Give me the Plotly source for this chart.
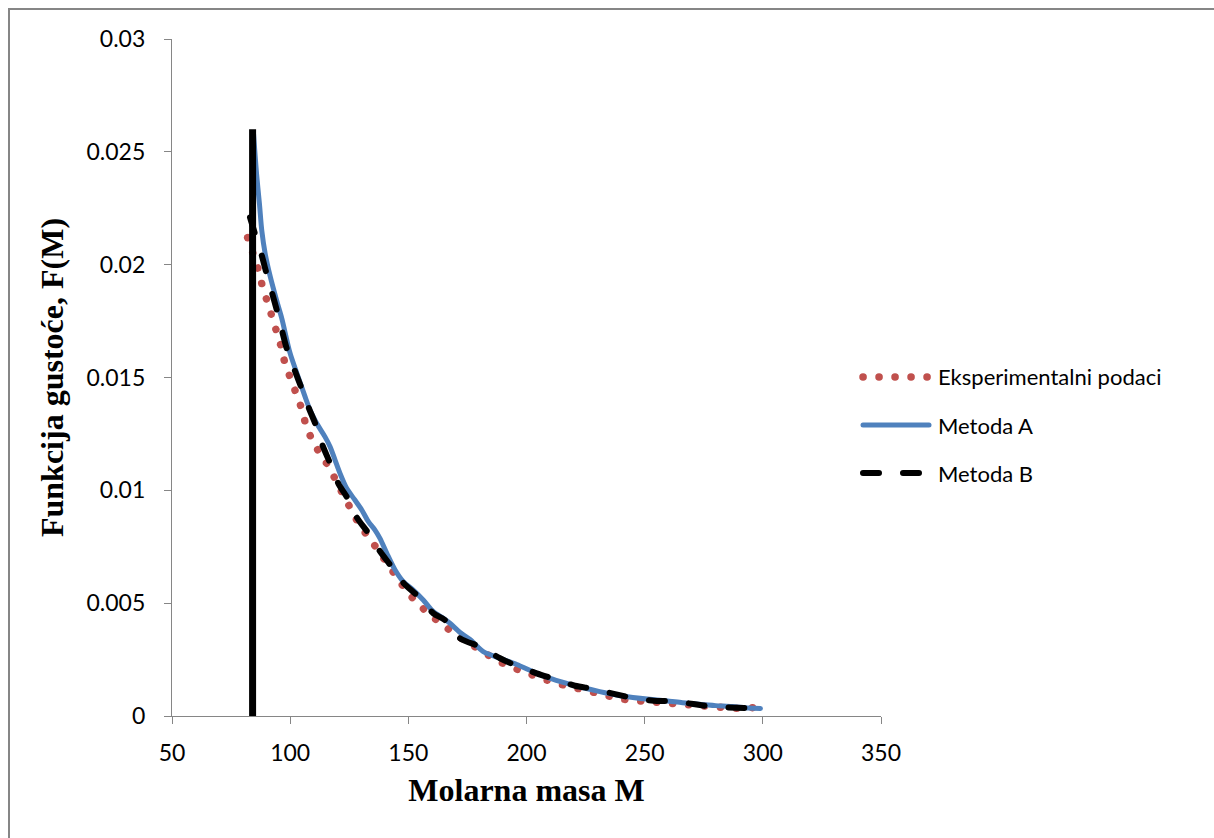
import plotly.graph_objects as go

# Experimental molar-mass density (dotted red)
exp_M = [82.0, 84.7, 86.8, 88.1, 90.2, 92.3, 96.4, 97.8, 100.4, 103.0, 105.1, 106.7,
         109.4, 112.9, 116.9, 119.7, 122.9, 126.0, 129.5, 133.8, 137.6, 141.5, 145.8,
         149.6, 154.2, 159.2, 170.2, 176.1, 181.7, 187.8, 194.2, 200.5, 207.1, 213.5,
         220.1, 226.9, 233.5, 240.3, 246.9, 254.0, 260.7, 267.8, 274.6, 281.3, 288.4,
         295.3, 302.1]
exp_F = [0.0212, 0.0204, 0.0197, 0.0191, 0.0183, 0.0177, 0.0163, 0.0156, 0.0149, 0.0142,
         0.01356, 0.01285, 0.0122, 0.01157, 0.01098, 0.01034, 0.00967, 0.00905, 0.00842,
         0.00785, 0.00725, 0.00666, 0.00607, 0.00548, 0.00496, 0.00448, 0.00359, 0.00318,
         0.00278, 0.00244, 0.00214, 0.00186, 0.00164, 0.00143, 0.00125, 0.00108, 0.00089,
         0.00075, 0.00068, 0.00061, 0.00055, 0.00050, 0.00041, 0.00034, 0.00034, 0.00037,
         0.00034]

# Method A (solid blue)
a_M = [84.5, 85.8, 87.0, 88.0, 89.4, 91.5, 94.3, 96.5, 99.9, 102.8, 106.3, 108.4, 111.2,
       114.7, 116.9, 119.0, 121.1, 123.9, 127.4, 130.3, 133.1, 135.9, 138.0, 140.9, 144.4,
       147.9, 152.1, 156.3, 160.6, 164.8, 167.6, 171.9, 176.0, 181.7, 188.8, 195.9, 203.0,
       210.0, 217.0, 224.0, 231.0, 238.0, 245.0, 252.0, 259.0, 266.0, 273.0, 280.0, 287.0,
       294.0, 299.0]
a_F = [0.0258, 0.0240, 0.0227, 0.0215, 0.0205, 0.0195, 0.0184, 0.0176, 0.0161, 0.0152,
       0.01415, 0.01356, 0.01297, 0.01238, 0.01193, 0.01134, 0.01075, 0.01009, 0.00957,
       0.00913, 0.00861, 0.00824, 0.00787, 0.00721, 0.00647, 0.00595, 0.00558, 0.00514,
       0.00462, 0.00433, 0.00411, 0.0037, 0.0034, 0.00285, 0.00256, 0.00228, 0.00195,
       0.00167, 0.00145, 0.00125, 0.00108, 0.00093, 0.00082, 0.00074, 0.00068, 0.00059,
       0.00052, 0.00046, 0.00042, 0.00035, 0.00033]

# Method B (dashed black)
b_M = [83.0, 85.0, 88.0, 90.0, 92.2, 94.3, 96.5, 98.5, 102.0, 104.9, 107.7, 111.2, 113.3,
       116.9, 120.4, 124.6, 128.2, 133.1, 138.0, 143.0, 147.9, 154.2, 160.6, 165.5, 171.9,
       180.3, 188.8, 195.9, 204.3, 212.1, 220.5, 228.3, 237.5, 245.2, 253.7, 261.4, 270.6,
       279.0, 288.2, 296.0]
b_F = [0.0221, 0.0214, 0.0204, 0.0196, 0.0188, 0.0180, 0.0171, 0.0163, 0.0153, 0.0145,
       0.0137, 0.0128, 0.0121, 0.0112, 0.0103, 0.0096, 0.0088, 0.0081, 0.0073, 0.0066,
       0.0059, 0.0053, 0.00455, 0.00425, 0.00344, 0.00307, 0.00256, 0.00222, 0.00189,
       0.00163, 0.00134, 0.0012, 0.00097, 0.0008, 0.00068, 0.00066, 0.00053, 0.00041,
       0.00037, 0.00034]

# Lower cut-off marker (solid black vertical)
cut_M = [84.1, 84.1]
cut_F = [0.0, 0.026]

x_ticks = [50, 100, 150, 200, 250, 300, 350]
y_ticks = [0, 0.005, 0.01, 0.015, 0.02, 0.025, 0.03]
y_tick_text = ["0", "0.005", "0.01", "0.015", "0.02", "0.025", "0.03"]
legend_labels = ["Eksperimentalni podaci", "Metoda A", "Metoda B"]

W, H = 1214, 838
L, R, T, B = 172, 333, 39, 122
PW, PH = W - L - R, H - T - B


def px_x(p):
    return (p - L) / PW


def px_y(p):
    return (H - B - p) / PH


RED, BLUE, BLACK, GREY = "#C0504D", "#4F81BD", "#000000", "#868686"
TICK_FONT = dict(family="Lato", size=23, color="black")
LEGEND_FONT = dict(family="Lato", size=22, color="black")
TITLE_FONT = dict(family="Liberation Serif", size=32, color="black")

styles = [
    dict(color=RED, width=7.5, dash="0.1px,15.9px"),
    dict(color=BLUE, width=5),
    dict(color=BLACK, width=6, dash="16px,24px"),
]

fig = go.Figure()
fig.add_trace(go.Scatter(x=exp_M, y=exp_F, mode="lines", name=legend_labels[0],
                         line=styles[0], showlegend=False))
fig.add_trace(go.Scatter(x=a_M, y=a_F, mode="lines", name=legend_labels[1],
                         line=dict(**styles[1], shape="spline", smoothing=0.8),
                         showlegend=False))
fig.add_trace(go.Scatter(x=b_M, y=b_F, mode="lines", name=legend_labels[2],
                         line=dict(**styles[2], shape="spline", smoothing=0.8),
                         showlegend=False))
fig.add_trace(go.Scatter(x=cut_M, y=cut_F, mode="lines",
                         line=dict(color=BLACK, width=7), showlegend=False))

shapes = [
    # outer chart border
    dict(type="rect", xref="paper", yref="paper",
         x0=px_x(9), x1=px_x(1240), y0=px_y(860), y1=px_y(9),
         line=dict(color=GREY, width=2), layer="below"),
]
annotations = []
legend_rows = [377, 425, 473]
for label, st, row in zip(legend_labels, styles, legend_rows):
    shapes.append(dict(type="line", xref="paper", yref="paper",
                       x0=px_x(863), x1=px_x(929), y0=px_y(row), y1=px_y(row),
                       line=st))
    annotations.append(dict(text=label, xref="paper", yref="paper",
                            x=px_x(936), y=px_y(row), xanchor="left", yanchor="middle",
                            showarrow=False, font=LEGEND_FONT))

fig.update_layout(
    width=W, height=H,
    margin=dict(l=L, r=R, t=T, b=B, autoexpand=False),
    paper_bgcolor="white", plot_bgcolor="white",
    showlegend=False,
    shapes=shapes, annotations=annotations,
    xaxis=dict(range=[50, 350], tickvals=x_ticks, ticks="outside", ticklen=7,
               tickcolor=GREY, tickwidth=1.3, showline=True, linecolor=GREY,
               linewidth=1.3, showgrid=False, zeroline=False, tickfont=TICK_FONT,
               ticklabelstandoff=9,
               title=dict(text="<b>Molarna masa M</b>", font=TITLE_FONT, standoff=13)),
    yaxis=dict(range=[0, 0.03], tickvals=y_ticks, ticktext=y_tick_text, ticks="outside",
               ticklen=7, tickcolor=GREY, tickwidth=1.3, showline=True, linecolor=GREY,
               linewidth=1.3, showgrid=False, zeroline=False, tickfont=TICK_FONT,
               ticklabelstandoff=14,
               title=dict(text="<b>Funkcija gustoće, F(M)</b>", font=TITLE_FONT,
                          standoff=13)),
)

# round line caps so the dotted and dashed strokes get rounded ends
post = """
var gd = document.getElementById('{plot_id}');
function roundCaps() {
  var tr = gd.querySelectorAll('.scatterlayer .trace');
  for (var i = 0; i < 3 && i < tr.length; i++) {
    tr[i].querySelectorAll('path.js-line').forEach(function (p) { p.style.strokeLinecap = 'round'; });
  }
  gd.querySelectorAll('.shapelayer path').forEach(function (p) { p.style.strokeLinecap = 'round'; });
}
roundCaps();
gd.on('plotly_afterplot', roundCaps);
"""

fig.write_html("out.html", config={"displayModeBar": False}, post_script=post)
